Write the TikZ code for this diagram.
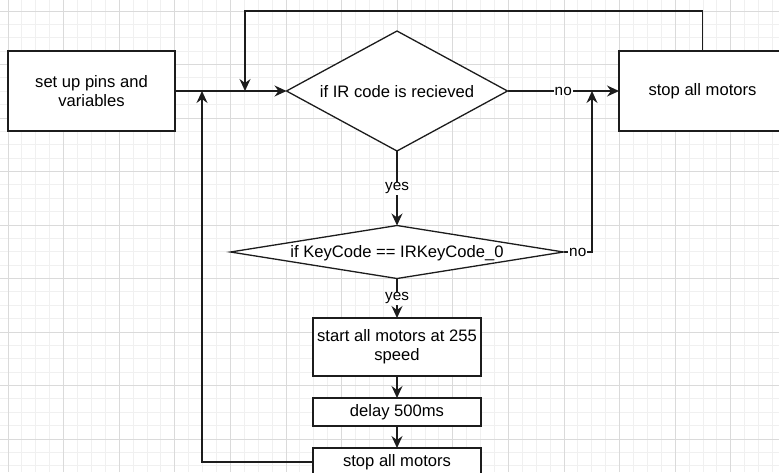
\documentclass[tikz,border=0pt]{standalone}
\usepackage{fontspec}
\setmainfont{Liberation Sans}
\usetikzlibrary{arrows.meta,shapes.geometric}
\definecolor{gridmajor}{RGB}{218,218,218}
\definecolor{gridminor}{RGB}{240,240,240}
\definecolor{ink}{RGB}{28,28,28}

\tikzset{
  box/.style={draw=ink, line width=1.3pt, fill=white, align=center,
    inner sep=0pt, outer sep=0pt, text=black,
    font=\fontsize{16.6}{19}\selectfont},
  dia/.style={shape=diamond, draw=ink, line width=1.3pt, fill=white,
    inner sep=0pt, outer sep=0pt, label distance=0pt,
    label={[font=\fontsize{16.6}{19}\selectfont, text=black, yshift=-1pt]center:#1}},
  flow/.style={draw=ink, line width=1.3pt,
    -{Stealth[length=12pt,width=11pt,inset=4pt]}},
  lbl/.style={fill=white, inner sep=0.8pt, text=black,
    font=\fontsize{15.3}{17}\selectfont},
}

\begin{document}
\begin{tikzpicture}[x=1pt,y=-1pt]
  \useasboundingbox (0,0) rectangle (779,472);
  \clip (0,0) rectangle (779,472);
  \fill[white] (0,0) rectangle (779,472);

  % background grid: fine lines, then every fourth line stronger
  \foreach \k in {-1,...,56}
    \draw[gridminor, line width=1pt] ({8+13.9*\k},0) -- ++(0,472);
  \foreach \k in {-1,...,35}
    \draw[gridminor, line width=1pt] (0,{11+13.375*\k}) -- ++(779,0);
  \foreach \k in {0,...,14}
    \draw[gridmajor, line width=1pt] ({8+55.6*\k},0) -- ++(0,472);
  \foreach \k in {0,...,9}
    \draw[gridmajor, line width=1pt] (0,{11+53.5*\k}) -- ++(779,0);

  % process steps and decisions
  \node[box, minimum width=167pt, minimum height=80pt] (setup) at (91.5,91)
    {set up pins and\\variables};
  \node[dia={if IR code is recieved}, minimum width=221pt, minimum height=120pt]
    (d1) at (397,91) {};
  \node[box, minimum width=167pt, minimum height=80pt] (stopR) at (702.5,91)
    {stop all motors};
  \node[dia={if KeyCode == IRKeyCode\_0}, minimum width=333pt, minimum height=53pt]
    (d2) at (397,252) {};
  \node[box, minimum width=168pt, minimum height=58pt] (start) at (397,347)
    {start all motors at 255\\speed};
  \node[box, minimum width=168pt, minimum height=28pt] (delay) at (397,412)
    {delay 500ms};
  \node[box, minimum width=168pt, minimum height=28pt] (stopB) at (397,462)
    {stop all motors};

  % junction points on the main line
  \coordinate (jLeft) at (202,91);
  \coordinate (jTop) at (245,91);
  \coordinate (cTop) at (245,11);
  \coordinate (jRight) at (592,91);

  % connectors
  \draw[flow] (setup.east) -- (d1.west);
  \draw[flow] (d1.east) -- node[lbl] {no} (stopR.west);
  \draw[flow] (d1.south) -- node[lbl] {yes} (d2.north);
  \draw[flow] (d2.east) -| node[lbl, pos=0.25] {no} (jRight);
  \draw[flow] (d2.south) -- node[lbl] {yes} (start.north);
  \draw[flow] (start.south) -- (delay.north);
  \draw[flow] (delay.south) -- (stopB.north);
  \draw[flow] (stopB.west) -| (jLeft);
  \draw[flow] (stopR.north) |- (cTop) -- (jTop);
\end{tikzpicture}
\end{document}
